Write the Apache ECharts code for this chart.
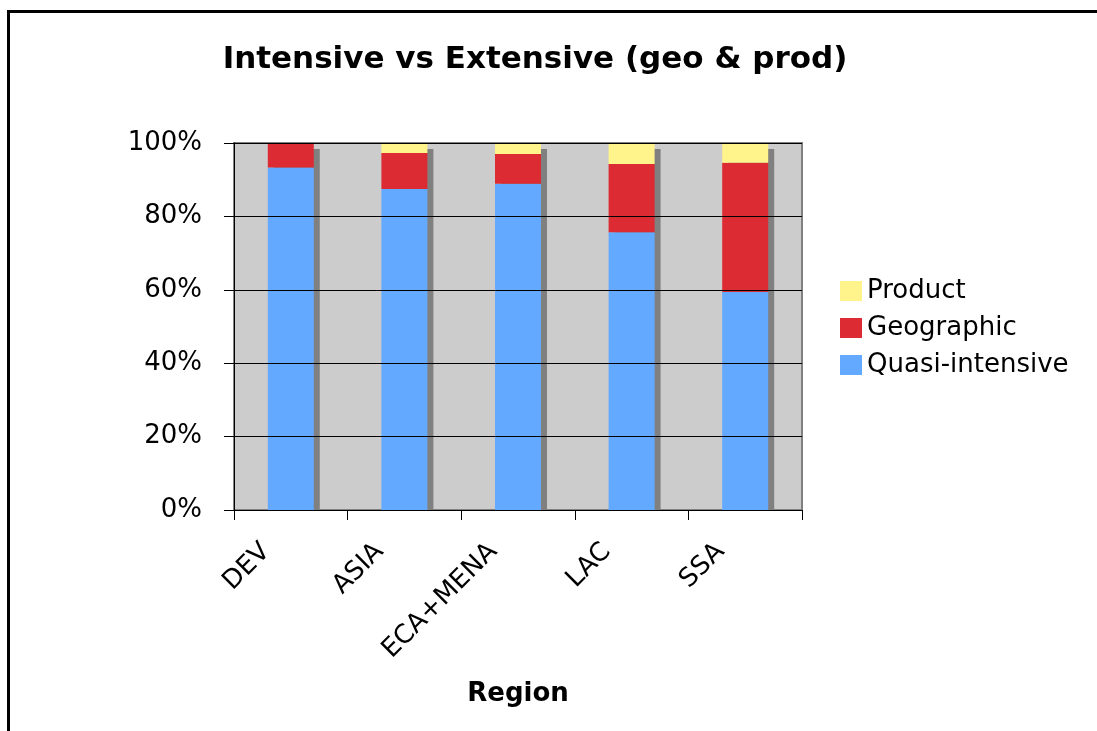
<!DOCTYPE html>
<html>
<head>
<meta charset="utf-8">
<script src="https://cdn.jsdelivr.net/npm/echarts@6/dist/echarts.min.js"></script>
<style>
html,body{margin:0;padding:0;background:#fff;}
#c{width:1097px;height:731px;}
</style>
</head>
<body>
<div id="c"></div>
<script>
var categories = ['DEV', 'ASIA', 'ECA+MENA', 'LAC', 'SSA'];
var quasiIntensive = [93.3, 87.5, 88.9, 75.7, 59.4];
var geographic = [6.4, 9.8, 8.1, 18.6, 35.2];
var product = [0.3, 2.7, 3.0, 5.7, 5.4];
var yTicks = [0, 20, 40, 60, 80, 100];

var totals = categories.map(function (c, i) { return quasiIntensive[i] + geographic[i] + product[i]; });
var FONT = 'DejaVu Sans, Verdana, sans-serif';
var BAR_W = 46, SH = 6;

var chart = echarts.init(document.getElementById('c'), null, { renderer: 'canvas' });
chart.setOption({
  animation: false,
  backgroundColor: '#ffffff',
  title: {
    text: 'Intensive vs Extensive (geo & prod)',
    left: 530, top: 39, textAlign: 'center',
    textStyle: { fontFamily: FONT, fontSize: 31, fontWeight: 'bold', color: '#000' }
  },
  graphic: [{
    type: 'rect', silent: true, z: 100,
    shape: { x: 8.5, y: 11.5, width: 2000, height: 2000 },
    style: { fill: 'none', stroke: '#000', lineWidth: 3 }
  }],
  legend: {
    orient: 'vertical', left: 835, top: 273,
    itemWidth: 22, itemHeight: 20, itemGap: 11, itemTextGap: 10,
    icon: 'rect',
    data: ['Product', 'Geographic', 'Quasi-intensive'],
    textStyle: { fontFamily: FONT, fontSize: 26, color: '#000' }
  },
  grid: {
    left: 234, right: 295, top: 143, bottom: 221,
    show: true, backgroundColor: '#cccccc', borderColor: '#808080', borderWidth: 2
  },
  xAxis: {
    type: 'category', data: categories, z: 10,
    axisLine: { lineStyle: { color: '#000', width: 1 } },
    axisTick: { show: true, interval: 0, length: 10, lineStyle: { color: '#000' } },
    axisLabel: { rotate: 45, interval: 0, margin: 13, padding: [0, 35, 0, 0], fontFamily: FONT, fontSize: 26, color: '#000' },
    name: 'Region', nameLocation: 'middle', nameGap: 171,
    nameTextStyle: { fontFamily: FONT, fontSize: 26, fontWeight: 'bold', color: '#000' }
  },
  yAxis: {
    type: 'value', min: 0, max: 100, interval: 20, z: 10,
    axisLine: { show: true, lineStyle: { color: '#000', width: 1 } },
    axisTick: { show: true, length: 10, lineStyle: { color: '#000' } },
    axisLabel: { formatter: '{value}%', margin: 32, fontFamily: FONT, fontSize: 26, color: '#000' },
    splitLine: { show: true, lineStyle: { color: '#000', width: 1 } }
  },
  series: [
    {
      name: 'shadow', type: 'custom', z: 1, silent: true,
      data: totals.map(function (t, i) { return [i, t]; }),
      renderItem: function (params, api) {
        var top = api.coord([api.value(0), api.value(1)]);
        var base = api.coord([api.value(0), 0]);
        return {
          type: 'rect',
          shape: { x: top[0] - BAR_W / 2 + SH, y: top[1] + SH, width: BAR_W, height: base[1] - top[1] - SH },
          style: { fill: '#808080' }
        };
      }
    },
    { name: 'Quasi-intensive', type: 'bar', stack: 'a', barWidth: BAR_W, z: 4, data: quasiIntensive, itemStyle: { color: '#63a9ff' } },
    { name: 'Geographic', type: 'bar', stack: 'a', barWidth: BAR_W, z: 4, data: geographic, itemStyle: { color: '#dc2b32' } },
    { name: 'Product', type: 'bar', stack: 'a', barWidth: BAR_W, z: 4, data: product, itemStyle: { color: '#fff48c' } }
  ]
});
</script>
</body>
</html>
